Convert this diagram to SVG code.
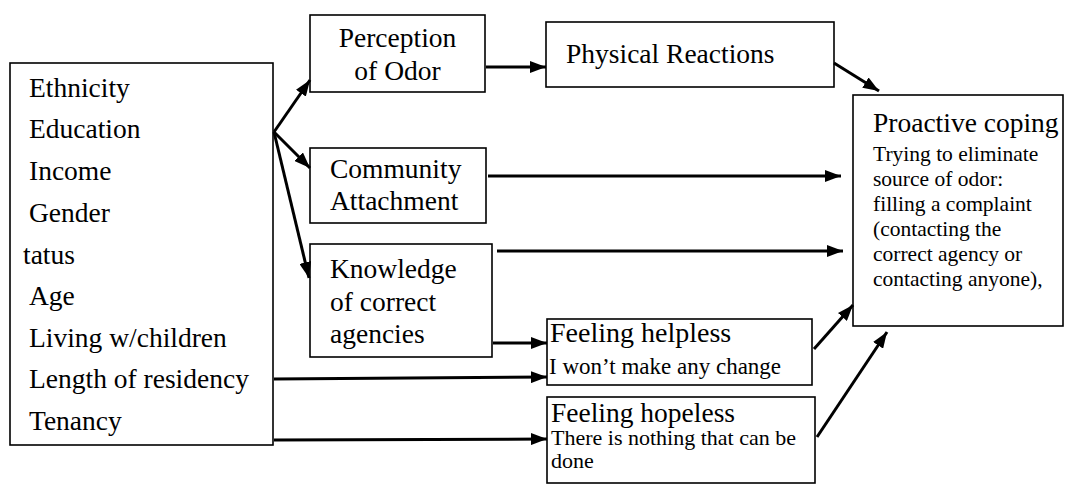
<svg xmlns="http://www.w3.org/2000/svg" width="1068" height="485" viewBox="0 0 1068 485">
  <style>
    .box { fill: #ffffff; stroke: #000000; stroke-width: 1.6; }
    .t { font-family: "Liberation Serif", "Times New Roman", "DejaVu Serif", serif; font-size: 27.5px; fill: #000000; }
    .s { font-family: "Liberation Serif", "Times New Roman", "DejaVu Serif", serif; font-size: 21.5px; fill: #000000; }
    .c { fill: none; stroke: #000000; stroke-width: 3; }
  </style>
  <defs>
    <marker id="arrow" markerUnits="userSpaceOnUse" markerWidth="16" markerHeight="12" refX="16" refY="6" orient="auto">
      <path d="M0,0 L16,6 L0,12 z" fill="#000000"/>
    </marker>
  </defs>
  <rect width="1068" height="485" fill="#ffffff"/>

  <!-- demographic factors -->
  <g id="demographics">
    <rect class="box" x="10" y="63" width="263" height="382"/>
    <text class="t" x="29" y="97">Ethnicity</text>
    <text class="t" x="29" y="138">Education</text>
    <text class="t" x="29" y="180">Income</text>
    <text class="t" x="29" y="222">Gender</text>
    <text class="t" x="23" y="264">tatus</text>
    <text class="t" x="29" y="305">Age</text>
    <text class="t" x="29" y="347">Living w/children</text>
    <text class="t" x="29" y="388">Length of residency</text>
    <text class="t" x="29" y="430">Tenancy</text>
  </g>

  <g id="perception">
    <rect class="box" x="310" y="15" width="175" height="77"/>
    <text class="t" x="397.5" y="47" text-anchor="middle">Perception</text>
    <text class="t" x="397.5" y="80" text-anchor="middle">of Odor</text>
  </g>

  <g id="physical">
    <rect class="box" x="546" y="22" width="288" height="65"/>
    <text class="t" x="566" y="63">Physical Reactions</text>
  </g>

  <g id="community">
    <rect class="box" x="310" y="148" width="176" height="75"/>
    <text class="t" x="330" y="178">Community</text>
    <text class="t" x="330" y="210">Attachment</text>
  </g>

  <g id="knowledge">
    <rect class="box" x="310" y="244" width="182" height="113"/>
    <text class="t" x="330" y="278">Knowledge</text>
    <text class="t" x="330" y="311">of correct</text>
    <text class="t" x="330" y="343">agencies</text>
  </g>

  <g id="helpless">
    <rect class="box" x="547" y="319" width="265" height="66"/>
    <text class="t" x="550" y="342" style="font-size:28px">Feeling helpless</text>
    <text class="s" x="549" y="374" style="font-size:23px">I won’t make any change</text>
  </g>

  <g id="hopeless">
    <rect class="box" x="547" y="397" width="268" height="86"/>
    <text class="t" x="551" y="422">Feeling hopeless</text>
    <text class="s" x="551" y="445" style="font-size:22px">There is nothing that can be</text>
    <text class="s" x="551" y="468" style="font-size:22px">done</text>
  </g>

  <g id="proactive">
    <rect class="box" x="853" y="95" width="210" height="231"/>
    <text class="t" x="873" y="132">Proactive coping</text>
    <text class="s" x="873" y="161">Trying to eliminate</text>
    <text class="s" x="873" y="186">source of odor:</text>
    <text class="s" x="873" y="211">filling a complaint</text>
    <text class="s" x="873" y="236">(contacting the</text>
    <text class="s" x="873" y="261">correct agency or</text>
    <text class="s" x="873" y="286">contacting anyone),</text>
  </g>

  <!-- connectors -->
  <g id="connectors">
    <path class="c" d="M274,132 L310,80" marker-end="url(#arrow)"/>
    <path class="c" d="M274,132 L310,168" marker-end="url(#arrow)"/>
    <path class="c" d="M274,132 L309,278" marker-end="url(#arrow)"/>
    <path class="c" d="M486,67 L546,67" marker-end="url(#arrow)"/>
    <path class="c" d="M834,63 L879,91" marker-end="url(#arrow)"/>
    <path class="c" d="M488,176 L841,176" marker-end="url(#arrow)"/>
    <path class="c" d="M497,251 L843,251" marker-end="url(#arrow)"/>
    <path class="c" d="M493,343 L547,343" marker-end="url(#arrow)"/>
    <path class="c" d="M274,379 L547,377" marker-end="url(#arrow)"/>
    <path class="c" d="M274,440 L547,439" marker-end="url(#arrow)"/>
    <path class="c" d="M814,349 L853,305" marker-end="url(#arrow)"/>
    <path class="c" d="M817,437 L887,332" marker-end="url(#arrow)"/>
  </g>
</svg>
